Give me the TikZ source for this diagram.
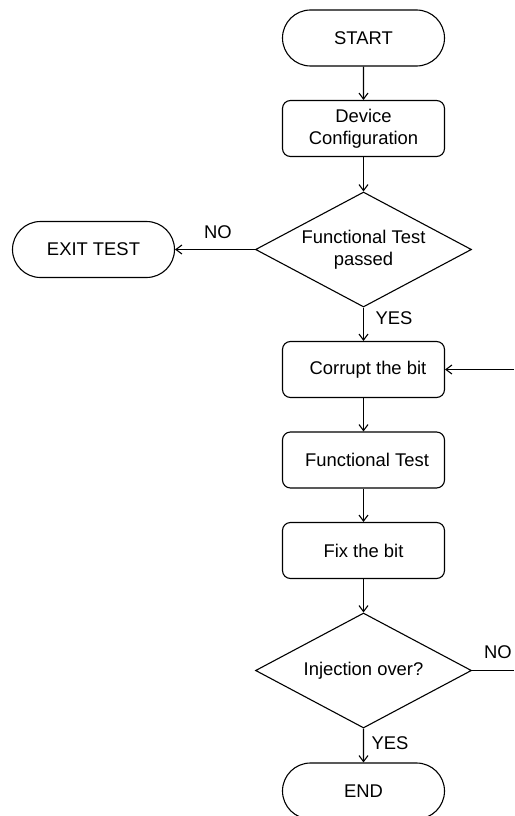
\documentclass[tikz,border=0pt]{standalone}
\usepackage{fontspec}
\setmainfont{Liberation Sans}
\usetikzlibrary{shapes.geometric,shapes.misc,arrows.meta}

\begin{document}
\begin{tikzpicture}[x=1pt,y=-1pt,
  every node/.style={font=\fontsize{18.4}{22}\selectfont, text=black},
  flow/.style={draw=black, line width=1.1pt, -{Straight Barb[length=6pt,width=9pt,line width=1.1pt]}},
  plain/.style={draw=black, line width=1.1pt},
  terminal/.style={draw=black, line width=1.1pt, rounded rectangle, minimum width=162pt, minimum height=56pt, inner sep=0pt},
  process/.style={draw=black, line width=1.1pt, rounded corners=8pt, minimum width=162pt, minimum height=56pt, inner sep=0pt, align=center},
  decision/.style={draw=black, line width=1.1pt, diamond, aspect=1.88, minimum width=216pt, minimum height=115pt, inner sep=0pt, align=center},
  lbl/.style={inner sep=0pt}
]
\useasboundingbox (0,0) rectangle (514,816);

% main column
\node[terminal] (start) at (363.5,38) {START};
\node[process]  (config) at (363.5,128.5) {Device\\Configuration};
\node[decision] (ftpass) at (363.5,249.5) {Functional Test\\passed};
\node[terminal] (exit) at (93.5,249.5) {EXIT TEST};
\node[process]  (corrupt) at (363.5,369.5) {\hspace*{9pt}Corrupt the bit};
\node[process]  (ftest) at (363.5,460) {\hspace*{7pt}Functional Test};
\node[process]  (fix) at (363.5,550.5) {Fix the bit};
\node[decision] (over) at (363.5,670.5) {Injection over?};
\node[terminal] (end) at (363.5,791) {END};

% loop ends at the right border
\coordinate (loopin) at (514,369.5);
\coordinate (loopout) at (514,670.5);

% connectors
\draw[flow] (start) -- (config);
\draw[flow] (config) -- (ftpass);
\draw[flow] (ftpass.west) -- (exit.east);
\draw[flow] (ftpass.south) -- (corrupt);
\draw[flow] (corrupt) -- (ftest);
\draw[flow] (ftest) -- (fix);
\draw[flow] (fix) -- (over);
\draw[flow] (over.south) -- (end);
\draw[flow] (loopin) -- (corrupt.east);
\draw[plain] (over.east) -- (loopout);

% branch labels
\node[lbl] (no1) at (218,232) {NO};
\node[lbl] (yes1) at (394,318) {YES};
\node[lbl] (no2) at (498,652) {NO};
\node[lbl] (yes2) at (390,743) {YES};
\end{tikzpicture}
\end{document}
